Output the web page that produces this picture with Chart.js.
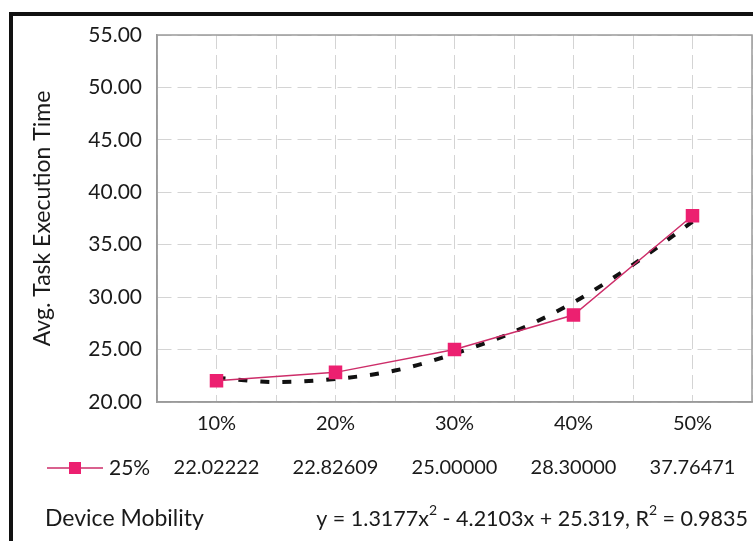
<!DOCTYPE html>
<html>
<head>
<meta charset="utf-8">
<script src="https://cdn.jsdelivr.net/npm/chart.js@4"></script>
<style>
    html, body { margin: 0; padding: 0; background: #fff; }
    #wrap { position: relative; width: 753px; height: 541px; overflow: hidden; }
    #frame {
        position: absolute; left: 9px; top: 12px; width: 800px; height: 600px;
        border-left: 4px solid #111; border-top: 4px solid #111; pointer-events: none;
    }
</style>
</head>
<body>
<div id="wrap">
    <canvas id="chart" width="753" height="541"></canvas>
    <div id="frame"></div>
</div>
<script>
const categories = ["10%", "20%", "30%", "40%", "50%"];
const seriesName = "25%";
const seriesValues = [22.02222, 22.82609, 25.00000, 28.30000, 37.76471];
// trendline, at half-category steps
const trendX = [1, 1.5, 2, 2.5, 3, 3.5, 4, 4.5, 5];
const trendY = [22.3, 21.9, 22.2, 23.0, 24.6, 26.7, 29.5, 33.1, 37.2];
const yTicks = [20, 25, 30, 35, 40, 45, 50, 55];
const axisTitle = "Avg. Task Execution Time";
const xTitle = "Device Mobility";
const equationParts = [
    ["y = 1.3177x", false], ["2", true], [" - 4.2103x + 25.319, R", false], ["2", true], [" = 0.9835", false],
];

const FONT = "Lato, 'DejaVu Sans', sans-serif";
const PINK = "rgb(236, 32, 112)";
const PINK_LINE = "rgb(205, 45, 105)";
const TEXT = "#1a1a1a";

const tablePlugin = {
    id: "dataTable",
    beforeDatasetsDraw(chart) {
        const { ctx, chartArea: a } = chart;
        ctx.save();
        ctx.strokeStyle = "#9a9a9a";
        ctx.lineWidth = 1.5;
        ctx.strokeRect(a.left, a.top, a.right - a.left, a.bottom - a.top);
        ctx.restore();
    },
    afterDraw(chart) {
        const { ctx } = chart;
        const x = chart.scales.x;
        const rowY = 468;
        ctx.save();
        ctx.fillStyle = TEXT;
        ctx.textBaseline = "middle";

        // legend key
        ctx.strokeStyle = PINK_LINE;
        ctx.lineWidth = 1.5;
        ctx.beginPath();
        ctx.moveTo(47, rowY);
        ctx.lineTo(103, rowY);
        ctx.stroke();
        ctx.fillStyle = PINK;
        ctx.fillRect(69, rowY - 6, 12, 12);
        ctx.fillStyle = TEXT;
        ctx.textAlign = "left";
        ctx.font = "21px " + FONT;
        ctx.fillText(seriesName, 109, rowY);

        ctx.font = "20px " + FONT;
        ctx.textAlign = "center";
        seriesValues.forEach((v, i) => {
            ctx.fillText(v.toFixed(5), x.getPixelForValue(i + 1), rowY);
        });

        // bottom line: axis name and trend equation
        ctx.textAlign = "left";
        ctx.font = "23px " + FONT;
        ctx.fillText(xTitle, 45, 519);

        const mainFont = "21.5px " + FONT;
        const supFont = "14px " + FONT;
        let total = 0;
        for (const [t, sup] of equationParts) {
            ctx.font = sup ? supFont : mainFont;
            total += ctx.measureText(t).width;
        }
        let cx = 748 - total;
        for (const [t, sup] of equationParts) {
            ctx.font = sup ? supFont : mainFont;
            ctx.fillText(t, cx, sup ? 510 : 519);
            cx += ctx.measureText(t).width;
        }
        ctx.restore();
    },
};

new Chart(document.getElementById("chart"), {
    type: "line",
    data: {
        datasets: [
            {
                label: seriesName,
                data: seriesValues.map((v, i) => ({ x: i + 1, y: v })),
                borderColor: PINK_LINE,
                borderWidth: 1.5,
                backgroundColor: PINK,
                pointBackgroundColor: PINK,
                pointBorderColor: PINK,
                pointStyle: "rect",
                pointRadius: 8.5,
                order: 0,
            },
            {
                label: "trend",
                data: trendX.map((x, i) => ({ x, y: trendY[i] })),
                borderColor: "#111",
                borderWidth: 4,
                borderDash: [9, 13],
                pointRadius: 0,
                cubicInterpolationMode: "monotone",
                order: 1,
            },
        ],
    },
    options: {
        responsive: false,
        animation: false,
        layout: { autoPadding: false, padding: { left: 0, right: 1, top: 35, bottom: 0 } },
        plugins: { legend: { display: false }, tooltip: { enabled: false } },
        scales: {
            x: {
                type: "linear",
                min: 0.5,
                max: 5.5,
                afterFit: (s) => { s.height = 139; s.paddingLeft = 0; s.paddingRight = 0; },
                afterBuildTicks: (s) => {
                    s.ticks = [];
                    for (let v = 0.5; v <= 5.5; v += 0.5) s.ticks.push({ value: v });
                },
                ticks: {
                    autoSkip: false,
                    maxRotation: 0,
                    padding: 10,
                    color: TEXT,
                    font: { family: FONT, size: 20 },
                    callback: (v) => (Number.isInteger(v) ? categories[v - 1] : ""),
                },
                grid: { color: "#d4d4d4", lineWidth: 1, drawTicks: false },
                border: { color: "#9a9a9a", width: 1.5, dash: [14, 6] },
            },
            y: {
                min: 20,
                max: 55,
                afterFit: (s) => { s.width = 157; },
                afterBuildTicks: (s) => { s.ticks = yTicks.map((v) => ({ value: v })); },
                ticks: {
                    padding: 15,
                    color: TEXT,
                    font: { family: FONT, size: 21 },
                    callback: (v) => v.toFixed(2),
                },
                grid: { color: "#d4d4d4", lineWidth: 1, drawTicks: false },
                border: { color: "#9a9a9a", width: 1.5, dash: [14, 6] },
                title: {
                    display: true,
                    text: axisTitle,
                    color: TEXT,
                    font: { family: FONT, size: 23 },
                    padding: { top: 29, bottom: 0 },
                },
            },
        },
    },
    plugins: [tablePlugin],
});
</script>
</body>
</html>
